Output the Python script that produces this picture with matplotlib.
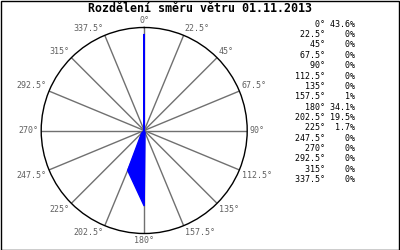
import numpy as np
import matplotlib
matplotlib.use("Agg")
import matplotlib.pyplot as plt

title = "Rozdělení směru větru 01.11.2013"
directions = [0, 22.5, 45, 67.5, 90, 112.5, 135, 157.5,
              180, 202.5, 225, 247.5, 270, 292.5, 315, 337.5]
dir_labels = ["0°", "22.5°", "45°", "67.5°", "90°", "112.5°", "135°", "157.5°",
              "180°", "202.5°", "225°", "247.5°", "270°", "292.5°", "315°", "337.5°"]
values = [43.6, 0, 0, 0, 0, 0, 0, 1, 34.1, 19.5, 1.7, 0, 0, 0, 0, 0]
value_labels = ["43.6%", "0%", "0%", "0%", "0%", "0%", "0%", "1%",
                "34.1%", "19.5%", "1.7%", "0%", "0%", "0%", "0%", "0%"]
r_max = 46.5

W, H = 400, 250
fig = plt.figure(figsize=(W / 100, H / 100), dpi=100)
fig.patch.set_facecolor("white")

# figure border
fig.add_artist(plt.Rectangle((0.5 / W, 0.5 / H), 1 - 1.5 / W, 1 - 1.5 / H,
                             transform=fig.transFigure, fill=False,
                             edgecolor="black", linewidth=1))

cx, cy, R = 144.2, 130.5, 103.0
ax = fig.add_axes([(cx - R) / W, (H - cy - R) / H, 2 * R / W, 2 * R / H],
                  projection="polar")
ax.set_theta_zero_location("N")
ax.set_theta_direction(-1)
ax.set_ylim(0, r_max)
ax.set_yticks([])
ax.set_xticks([])
ax.grid(False)
ax.spines["polar"].set_color("black")
ax.spines["polar"].set_linewidth(1)

theta = np.deg2rad(directions)
# radial grid lines
for t in theta:
    ax.plot([t, t], [0, r_max], color="#707070", linewidth=1, zorder=1)

# filled polygon
tc = np.append(theta, theta[0])
vc = np.append(values, values[0])
ax.fill(tc, vc, facecolor="#0000ff", edgecolor="#0000ff", linewidth=1, zorder=3)

# direction labels
mono = "DejaVu Sans Mono"
for t, d, lab in zip(theta, directions, dir_labels):
    if d == 0 or d == 180:
        ha = "center"
    elif d < 180:
        ha = "left"
    else:
        ha = "right"
    if d == 90 or d == 270:
        va = "center"
    elif d < 90 or d > 270:
        va = "bottom"
    else:
        va = "top"
    ax.text(t, r_max * 1.025, lab, ha=ha, va=va, fontsize=6, family=mono,
            color="#606060", clip_on=False)

# title
fig.text(200 / W, 1 - 8.5 / H, title, ha="center", va="center",
         fontsize=8.4, fontweight="bold", family=mono, color="black")

# legend table
y0, dy = 24.3, 10.35
for i, (lab, vl) in enumerate(zip(dir_labels, value_labels)):
    y = 1 - (y0 + i * dy) / H
    fig.text(355 / W, y, f"{lab:>6} {vl:>5}", ha="right", va="center",
             fontsize=6, family=mono, color="black")

fig.savefig("out.png", dpi=100, facecolor="white")
